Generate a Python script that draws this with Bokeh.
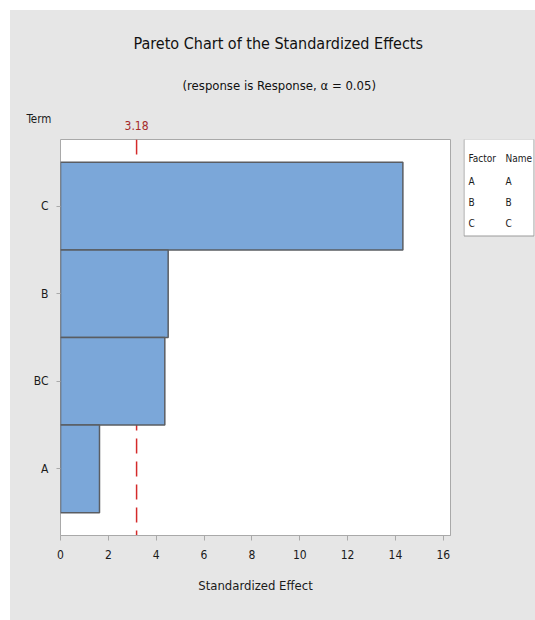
from bokeh.plotting import figure
from bokeh.models import FactorRange, Range1d, Span, FixedTicker, LinearAxis, Title
from bokeh.layouts import row
from bokeh.core.properties import value
from bokeh.embed import file_html
from bokeh.resources import INLINE

# Standardized effects, largest first
terms = ["C", "B", "BC", "A"]
effects = [14.31, 4.50, 4.36, 1.63]
critical_value = 3.18
x_ticks = [0, 2, 4, 6, 8, 10, 12, 14, 16]

# Factor / name key
factor_codes = ["A", "B", "C"]
factor_names = ["A", "B", "C"]

FONT = "DejaVu Sans Condensed, Roboto, sans-serif"
PANEL = "#e6e6e6"
BAR_FILL = "#7ba7d9"
BAR_LINE = "#5a5d62"
RED = "#d42a2a"
INK = "#1a1a1a"

# y factors run bottom-to-top, so reverse the ranked order
y_factors = list(reversed(terms))
y_range = FactorRange(*y_factors, range_padding=0.26, range_padding_units="absolute")

p = figure(width=452, height=610, y_range=y_range, x_range=Range1d(0, 16.3),
           output_backend="svg", toolbar_location=None,
           min_border_left=50, min_border_right=12,
           min_border_top=129, min_border_bottom=85)
p.border_fill_color = PANEL
p.background_fill_color = "white"
p.outline_line_color = "#a9a9a9"
p.grid.visible = False

# significance reference line (under the bars)
ref = Span(location=critical_value, dimension="height", line_color=RED,
           line_width=1.5, line_dash="15 8", level="underlay")
p.add_layout(ref)

p.hbar(y=terms, right=effects, left=0, height=1.0,
       fill_color=BAR_FILL, line_color=BAR_LINE, line_width=1.5)

# bottom axis
xa = p.xaxis[0]
xa.ticker = FixedTicker(ticks=x_ticks)
xa.axis_label = "Standardized Effect"
xa.axis_label_text_font = FONT
xa.axis_label_text_font_style = "normal"
xa.axis_label_text_font_size = "13px"
xa.axis_label_text_color = INK
xa.axis_label_standoff = 16
xa.major_label_text_font = FONT
xa.major_label_text_font_size = "12px"
xa.major_label_text_color = INK
xa.major_label_standoff = 9
xa.axis_line_color = "#a9a9a9"
xa.major_tick_line_color = "#a9a9a9"
xa.major_tick_out = 5
xa.major_tick_in = 0
xa.minor_tick_line_color = None

# term axis
ya = p.yaxis[0]
ya.major_label_text_font = FONT
ya.major_label_text_font_size = "12px"
ya.major_label_text_color = INK
ya.major_label_standoff = 8
ya.axis_line_color = None
ya.major_tick_line_color = "#a9a9a9"
ya.major_tick_out = 4
ya.major_tick_in = 0

# critical value marked above the frame
crit_axis = LinearAxis(ticker=FixedTicker(ticks=[critical_value]),
                       axis_line_color=None, major_tick_line_color=None,
                       minor_tick_line_color=None,
                       major_label_text_font=FONT, major_label_text_font_size="12px",
                       major_label_text_color="#a52a2a", major_label_standoff=4)
p.add_layout(crit_axis, "above")

# header texts, stacked outward from the frame
p.add_layout(Title(text="Term", align="left", offset=-34,
                   text_font=FONT, text_font_size="11.5px", text_font_style="normal",
                   text_color=INK, standoff=-16), "above")
p.add_layout(Title(text="(response is Response, α = 0.05)", align="left", offset=122,
                   text_font=FONT, text_font_size="13px", text_font_style="normal",
                   text_color="#111111", standoff=50), "above")
p.add_layout(Title(text="Pareto Chart of the Standardized Effects", align="left", offset=73,
                   text_font=FONT, text_font_size="16px", text_font_style="normal",
                   text_color="#111111", standoff=-5), "above")

# factor key box, sharing the main plot's borders
key = figure(width=73, height=610, x_range=Range1d(0, 71), y_range=Range1d(396, 0),
             output_backend="svg", toolbar_location=None,
             x_axis_location=None, y_axis_location=None,
             min_border_left=1, min_border_right=1,
             min_border_top=129, min_border_bottom=85)
key.border_fill_color = PANEL
key.background_fill_color = PANEL
key.outline_line_color = None
key.grid.visible = False

key.quad(left=0.5, right=70.5, top=-0.5, bottom=96.5,
         fill_color="white", line_color="#9a9a9a", line_width=1)

row_y = [41.5 + 21 * i for i in range(len(factor_codes))]
key.text(x=[5, 42], y=[19, 19], text=["Factor", "Name"],
         text_font=value(FONT), text_font_size="10px", text_color=INK,
         text_baseline="middle")
key.text(x=[5] * len(factor_codes), y=row_y, text=factor_codes,
         text_font=value(FONT), text_font_size="10px", text_color=INK,
         text_baseline="middle")
key.text(x=[42] * len(factor_names), y=row_y, text=factor_names,
         text_font=value(FONT), text_font_size="10px", text_color=INK,
         text_baseline="middle")

layout = row(p, key, margin=(10, 0, 0, 10), spacing=0,
             styles={"background-color": PANEL})

with open("out.html", "w") as f:
    f.write(file_html(layout, INLINE))
